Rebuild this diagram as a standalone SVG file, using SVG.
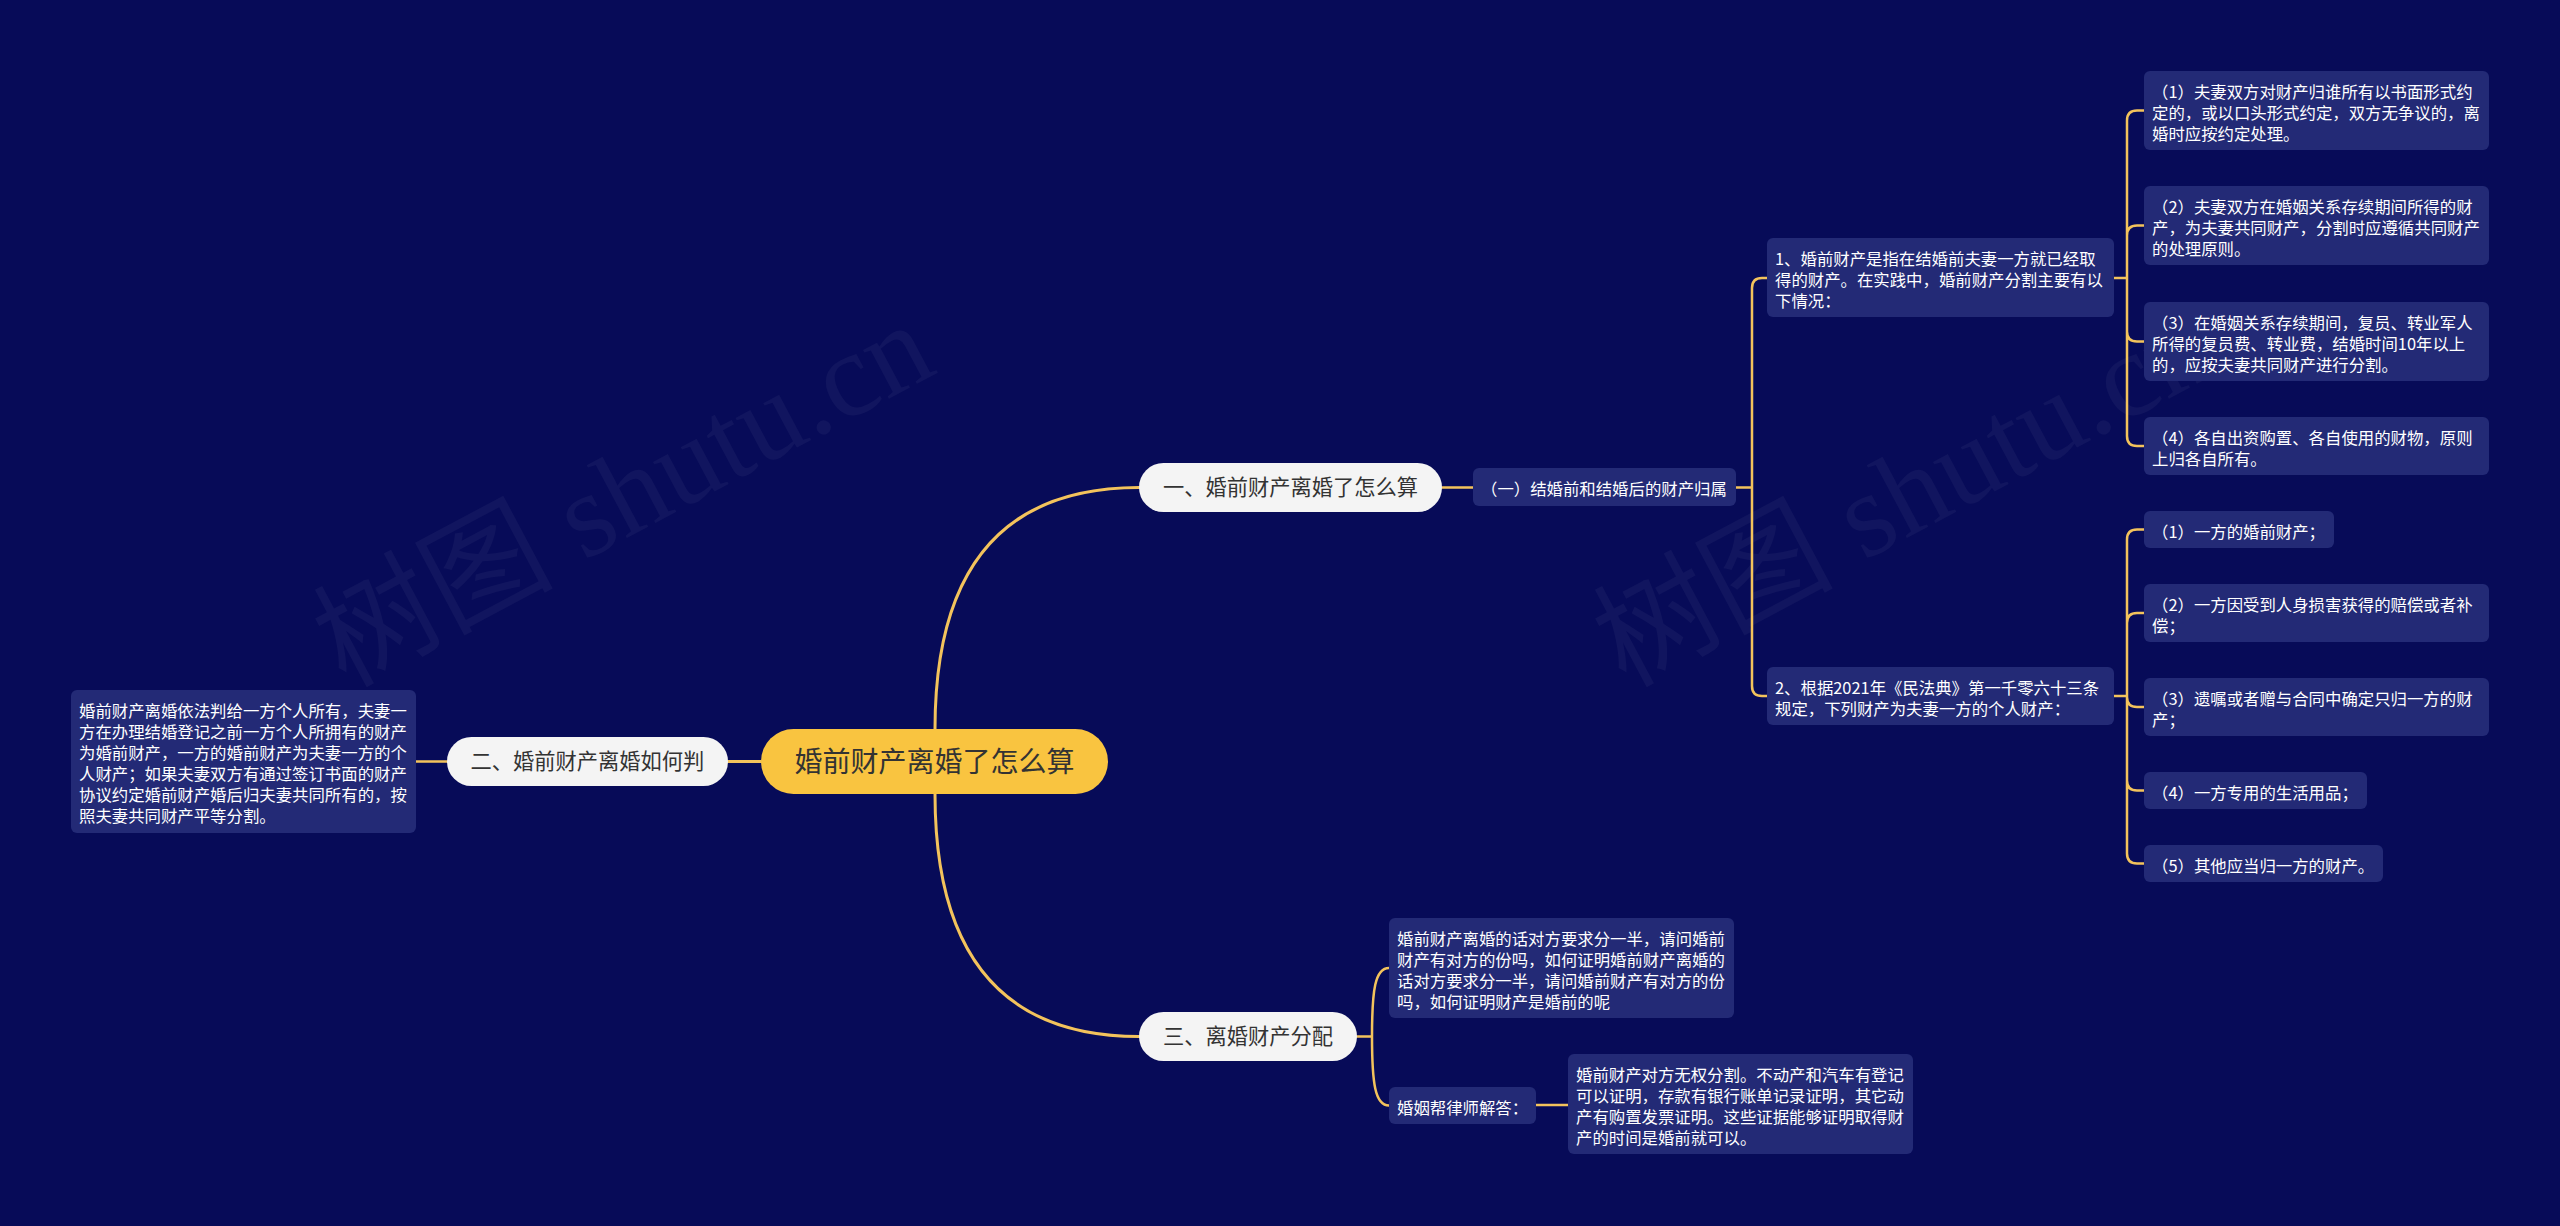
<svg xmlns="http://www.w3.org/2000/svg" width="2560" height="1226" viewBox="0 0 2560 1226">
<style>
.wm{font-family:"Liberation Serif","Noto Sans CJK SC",serif;font-size:120px;fill:#ffffff;fill-opacity:0.045}
.box{fill:#232a76}
.bt{font-family:"Noto Sans CJK SC","Noto Sans",sans-serif;font-size:16.4px;fill:#ffffff}
.wn{fill:#f4f4f4}
.wt{font-family:"Noto Sans CJK SC","Noto Sans",sans-serif;font-size:21.25px;fill:#333333;text-anchor:middle}
.cn{fill:#f9c440}
.ct{font-family:"Noto Sans CJK SC","Noto Sans",sans-serif;font-size:28px;fill:#333333;text-anchor:middle}
.ln{fill:none;stroke:#f3c35c;stroke-width:2.5;stroke-linecap:round}
.lm{fill:none;stroke:#f3c35c;stroke-width:3;stroke-linecap:round}
</style>
<rect x="0" y="0" width="2560" height="1226" fill="#070b58"/>
<g id="watermarks">
<text class="wm" transform="translate(345,688) rotate(-28)">树图 shutu.cn</text>
<text class="wm" transform="translate(1625,688) rotate(-28)">树图 shutu.cn</text>
</g>
<g id="connectors">
<path class="lm" d="M935,729 Q935,487.5 1139,487.5"/>
<path class="lm" d="M935,794 Q935,1036.5 1139,1036.5"/>
<path class="lm" d="M761,761.5 H728"/>
<path class="ln" d="M447,761.5 H416"/>
<path class="ln" d="M1442,487.5 H1473"/>
<path class="ln" d="M1736,487.5 H1752 M1752,487.5 V288 Q1752,278 1762,278 H1767 M1752,487.5 V686 Q1752,696 1762,696 H1767"/>
<path class="ln" d="M2114,278 H2127 M2127,278 V120.5 Q2127,110.5 2137,110.5 H2144 M2127,278 V235.5 Q2127,225.5 2137,225.5 H2144 M2127,278 V331.5 Q2127,341.5 2137,341.5 H2144 M2127,278 V436 Q2127,446 2137,446 H2144"/>
<path class="ln" d="M2114,696 H2127 M2127,696 V539.5 Q2127,529.5 2137,529.5 H2144 M2127,696 V623 Q2127,613 2137,613 H2144 M2127,696 V697 Q2127,707 2137,707 H2144 M2127,696 V780.5 Q2127,790.5 2137,790.5 H2144 M2127,696 V853.5 Q2127,863.5 2137,863.5 H2144"/>
<path class="ln" d="M1357,1036.5 H1372 M1372,1036.5 C1372,990 1375,968 1389,968 M1372,1036.5 C1372,1083 1375,1105.5 1389,1105.5"/>
<path class="ln" d="M1536,1105 H1568"/>
</g>
<g id="center">
<rect class="cn" x="761" y="729" width="347" height="65" rx="32.5"/>
<text class="ct" x="934.5" y="772">婚前财产离婚了怎么算</text>
</g>
<g id="n1">
<rect class="wn" x="1139" y="463" width="303" height="49" rx="24.5"/>
<text class="wt" x="1290.5" y="495.3">一、婚前财产离婚了怎么算</text>
</g>
<g id="n2">
<rect class="wn" x="447" y="737" width="281" height="49" rx="24.5"/>
<text class="wt" x="587.5" y="769.3">二、婚前财产离婚如何判</text>
</g>
<g id="n3">
<rect class="wn" x="1139" y="1012" width="218" height="49" rx="24.5"/>
<text class="wt" x="1248" y="1044.3">三、离婚财产分配</text>
</g>
<g id="left-detail">
<rect class="box" x="71" y="690" width="345" height="143" rx="6"/>
<text class="bt"><tspan x="79" y="716.5">婚前财产离婚依法判给一方个人所有，夫妻一</tspan><tspan x="79" y="737.5">方在办理结婚登记之前一方个人所拥有的财产</tspan><tspan x="79" y="758.5">为婚前财产，一方的婚前财产为夫妻一方的个</tspan><tspan x="79" y="779.5">人财产；如果夫妻双方有通过签订书面的财产</tspan><tspan x="79" y="800.5">协议约定婚前财产婚后归夫妻共同所有的，按</tspan><tspan x="79" y="821.5">照夫妻共同财产平等分割。</tspan></text>
</g>
<g id="sub1">
<rect class="box" x="1473" y="468" width="263" height="38" rx="6"/>
<text class="bt" x="1481" y="494.5">（一）结婚前和结婚后的财产归属</text>
</g>
<g id="b1">
<rect class="box" x="1767" y="238" width="347" height="79" rx="6"/>
<text class="bt"><tspan x="1775" y="264.5">1、婚前财产是指在结婚前夫妻一方就已经取</tspan><tspan x="1775" y="285.5">得的财产。在实践中，婚前财产分割主要有以</tspan><tspan x="1775" y="306.5">下情况：</tspan></text>
</g>
<g id="b2">
<rect class="box" x="1767" y="667" width="347" height="58" rx="6"/>
<text class="bt"><tspan x="1775" y="693.5">2、根据2021年《民法典》第一千零六十三条</tspan><tspan x="1775" y="714.5">规定，下列财产为夫妻一方的个人财产：</tspan></text>
</g>
<g id="a1">
<rect class="box" x="2144" y="71" width="345" height="79" rx="6"/>
<text class="bt"><tspan x="2152" y="97.5">（1）夫妻双方对财产归谁所有以书面形式约</tspan><tspan x="2152" y="118.5">定的，或以口头形式约定，双方无争议的，离</tspan><tspan x="2152" y="139.5">婚时应按约定处理。</tspan></text>
</g>
<g id="a2">
<rect class="box" x="2144" y="186" width="345" height="79" rx="6"/>
<text class="bt"><tspan x="2152" y="212.5">（2）夫妻双方在婚姻关系存续期间所得的财</tspan><tspan x="2152" y="233.5">产，为夫妻共同财产，分割时应遵循共同财产</tspan><tspan x="2152" y="254.5">的处理原则。</tspan></text>
</g>
<g id="a3">
<rect class="box" x="2144" y="302" width="345" height="79" rx="6"/>
<text class="bt"><tspan x="2152" y="328.5">（3）在婚姻关系存续期间，复员、转业军人</tspan><tspan x="2152" y="349.5">所得的复员费、转业费，结婚时间10年以上</tspan><tspan x="2152" y="370.5">的，应按夫妻共同财产进行分割。</tspan></text>
</g>
<g id="a4">
<rect class="box" x="2144" y="417" width="345" height="58" rx="6"/>
<text class="bt"><tspan x="2152" y="443.5">（4）各自出资购置、各自使用的财物，原则</tspan><tspan x="2152" y="464.5">上归各自所有。</tspan></text>
</g>
<g id="c1">
<rect class="box" x="2144" y="511" width="190" height="37" rx="6"/>
<text class="bt" x="2152" y="537.5">（1）一方的婚前财产；</text>
</g>
<g id="c2">
<rect class="box" x="2144" y="584" width="345" height="58" rx="6"/>
<text class="bt"><tspan x="2152" y="610.5">（2）一方因受到人身损害获得的赔偿或者补</tspan><tspan x="2152" y="631.5">偿；</tspan></text>
</g>
<g id="c3">
<rect class="box" x="2144" y="678" width="345" height="58" rx="6"/>
<text class="bt"><tspan x="2152" y="704.5">（3）遗嘱或者赠与合同中确定只归一方的财</tspan><tspan x="2152" y="725.5">产；</tspan></text>
</g>
<g id="c4">
<rect class="box" x="2144" y="772" width="223" height="37" rx="6"/>
<text class="bt" x="2152" y="798.5">（4）一方专用的生活用品；</text>
</g>
<g id="c5">
<rect class="box" x="2144" y="845" width="239" height="37" rx="6"/>
<text class="bt" x="2152" y="871.5">（5）其他应当归一方的财产。</text>
</g>
<g id="d1">
<rect class="box" x="1389" y="918" width="345" height="100" rx="6"/>
<text class="bt"><tspan x="1397" y="944.5">婚前财产离婚的话对方要求分一半，请问婚前</tspan><tspan x="1397" y="965.5">财产有对方的份吗，如何证明婚前财产离婚的</tspan><tspan x="1397" y="986.5">话对方要求分一半，请问婚前财产有对方的份</tspan><tspan x="1397" y="1007.5">吗，如何证明财产是婚前的呢</tspan></text>
</g>
<g id="d2">
<rect class="box" x="1389" y="1087" width="147" height="37" rx="6"/>
<text class="bt" x="1397" y="1113.5">婚姻帮律师解答：</text>
</g>
<g id="d3">
<rect class="box" x="1568" y="1054" width="345" height="100" rx="6"/>
<text class="bt"><tspan x="1576" y="1080.5">婚前财产对方无权分割。不动产和汽车有登记</tspan><tspan x="1576" y="1101.5">可以证明，存款有银行账单记录证明，其它动</tspan><tspan x="1576" y="1122.5">产有购置发票证明。这些证据能够证明取得财</tspan><tspan x="1576" y="1143.5">产的时间是婚前就可以。</tspan></text>
</g>
</svg>
